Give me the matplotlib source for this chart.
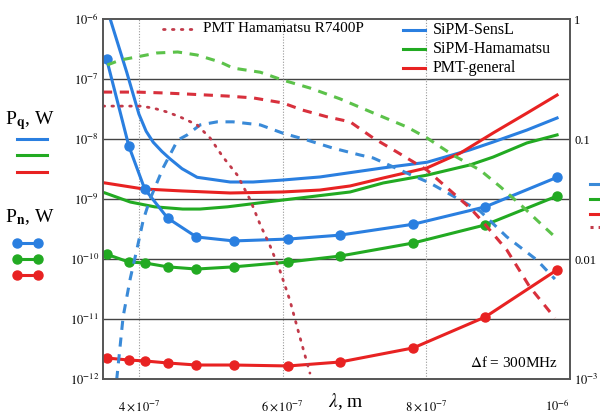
import numpy as np
import matplotlib.pyplot as plt
from matplotlib.lines import Line2D

plt.rcParams['font.family'] = ['Liberation Serif', 'DejaVu Serif']
plt.rcParams['mathtext.fontset'] = 'stix'

BLUE = '#2a7fe0'
GREEN = '#22aa22'
RED = '#e82222'
BLUE_D = '#3a8ad8'
GREEN_D = '#5cc24a'
RED_D = '#d8303c'
RED_DOT = '#c23a4a'

# noise power Pn, W (points with markers)
lam_n = np.array([355, 386, 408, 440, 480, 532, 608, 680, 782, 882, 982]) * 1e-9
pn_sensl = [2.15e-7, 7.6e-9, 1.47e-9, 4.8e-10, 2.33e-10, 2.0e-10, 2.15e-10, 2.5e-10, 3.8e-10, 7.4e-10, 2.3e-9]
pn_hama = [1.2e-10, 8.9e-11, 8.6e-11, 7.4e-11, 6.8e-11, 7.4e-11, 8.9e-11, 1.12e-10, 1.85e-10, 3.7e-10, 1.12e-9]
pn_pmt = [2.24e-12, 2.07e-12, 2.0e-12, 1.85e-12, 1.71e-12, 1.71e-12, 1.65e-12, 1.92e-12, 3.3e-12, 1.08e-11, 6.6e-11]

# quantum-limited power Pq, W
lam_q_sensl = np.array([356, 360, 383, 400, 410, 420, 432, 443, 460, 481, 527, 559, 600, 652, 740, 801, 861, 893, 940, 982]) * 1e-9
pq_sensl = [1.7e-6, 1.0e-6, 1.3e-7, 2.6e-8, 1.35e-8, 8.8e-9, 6.2e-9, 4.7e-9, 3.2e-9, 2.3e-9, 1.92e-9, 1.92e-9, 2.07e-9, 2.33e-9, 3.3e-9, 4.1e-9, 6.6e-9, 8.9e-9, 1.41e-8, 2.24e-8]
lam_q_hama = np.array([353, 388, 422, 461, 485, 523, 600, 694, 740, 801, 861, 893, 940, 982]) * 1e-9
pq_hama = [1.26e-9, 8.9e-10, 7.4e-10, 6.8e-10, 6.8e-10, 7.4e-10, 9.6e-10, 1.31e-9, 1.85e-9, 2.5e-9, 3.7e-9, 5.0e-9, 8.6e-9, 1.17e-8]
lam_q_pmt = np.array([353, 406, 461, 527, 600, 652, 694, 740, 801, 847, 893, 940, 982]) * 1e-9
pq_pmt = [1.85e-9, 1.47e-9, 1.36e-9, 1.26e-9, 1.31e-9, 1.41e-9, 1.65e-9, 2.24e-9, 3.3e-9, 5.8e-9, 1.26e-8, 2.7e-8, 5.4e-8]

# quantum efficiency (right axis)
lam_qe_sensl = np.array([369, 378, 388, 397, 406, 415, 434, 454, 467, 485, 509, 531, 569, 600, 634, 670, 708, 726, 773, 805, 875, 912, 954, 979]) * 1e-9
qe_sensl = [9.8e-4, 3.3e-3, 6.9e-3, 0.0119, 0.0211, 0.031, 0.058, 0.098, 0.108, 0.131, 0.139, 0.139, 0.131, 0.112, 0.098, 0.084, 0.0735, 0.0695, 0.052, 0.043, 0.025, 0.0153, 0.0098, 0.0068]
lam_qe_hama = np.array([356, 374, 397, 425, 454, 481, 513, 531, 569, 600, 638, 680, 726, 773, 801, 837, 875, 903, 935, 958, 979]) * 1e-9
qe_hama = [0.414, 0.455, 0.483, 0.521, 0.531, 0.501, 0.438, 0.39, 0.36, 0.31, 0.266, 0.216, 0.165, 0.126, 0.102, 0.0735, 0.055, 0.04, 0.027, 0.02, 0.0153]
lam_qe_pmt = np.array([350, 397, 434, 467, 523, 559, 600, 628, 662, 694, 726, 759, 801, 861, 879, 912, 944, 979]) * 1e-9
qe_pmt = [0.246, 0.246, 0.242, 0.237, 0.228, 0.22, 0.2, 0.174, 0.153, 0.139, 0.102, 0.078, 0.055, 0.0266, 0.0203, 0.0119, 0.00585, 0.00322]
lam_qe_r7400 = np.array([350, 402, 420, 439, 457, 481, 499, 517, 537, 555, 569, 582, 596, 610, 624, 638]) * 1e-9
qe_r7400 = [0.188, 0.188, 0.181, 0.168, 0.153, 0.131, 0.102, 0.0708, 0.05, 0.031, 0.0192, 0.0131, 0.0081, 0.00455, 0.00224, 0.00112]

W, H = 600, 415
fig = plt.figure(figsize=(6, 4.15), dpi=100)
ax = fig.add_axes([103 / W, 1 - 379 / H, 467 / W, 360 / H])
ax2 = ax.twinx()

ax.set_xlim(3.5e-7, 1e-6)
ax.set_yscale('log')
ax.set_ylim(1e-12, 1e-6)
ax2.set_yscale('log')
ax2.set_ylim(1e-3, 1)

for s in list(ax.spines.values()) + list(ax2.spines.values()):
    s.set_color('#555555')
    s.set_linewidth(1.2)

# grid
for d in range(-11, -6):
    ax.axhline(10.0 ** d, color='#444444', lw=1.0, zorder=1)
for xv in [4e-7, 6e-7, 8e-7]:
    ax.axvline(xv, color='#999999', lw=0.8, ls=(0, (1, 1.5)), zorder=1)

ax.set_yticks([10.0 ** d for d in range(-12, -5)])
ax.set_yticklabels([r'$10^{%d}$' % d for d in range(-12, -5)])
ax.minorticks_off()
ax.tick_params(axis='y', length=0, pad=3, labelsize=9)
ax.set_xticks([4e-7, 6e-7, 8e-7, 1e-6])
ax.set_xticklabels([r'$4\times10^{-7}$', r'$6\times10^{-7}$', r'$8\times10^{-7}$', r'$10^{-6}$'])
ax.tick_params(axis='x', length=0, pad=14, labelsize=9)
ax.get_xticklabels()[-1].set_horizontalalignment('right')

ax2.set_yticks([1e-3, 1e-2, 1e-1, 1])
ax2.set_yticklabels([r'$10^{-3}$', '0.01', '0.1', '1'])
ax2.minorticks_off()
ax2.tick_params(axis='y', length=0, pad=3, labelsize=9)

# Pq curves
ax.plot(lam_q_sensl, pq_sensl, color=BLUE, lw=2.2, zorder=4)
ax.plot(lam_q_hama, pq_hama, color=GREEN, lw=2.2, zorder=4)
ax.plot(lam_q_pmt, pq_pmt, color=RED, lw=2.2, zorder=4)

# Pn curves
ax.plot(lam_n, pn_sensl, color=BLUE, lw=2.2, marker='o', ms=6.5, zorder=5)
ax.plot(lam_n, pn_hama, color=GREEN, lw=2.2, marker='o', ms=6.5, zorder=5)
ax.plot(lam_n, pn_pmt, color=RED, lw=2.2, marker='o', ms=6.5, zorder=5)

# quantum efficiency
ax2.plot(lam_qe_sensl, qe_sensl, color=BLUE_D, lw=2.2, dashes=(3, 2.5))
ax2.plot(lam_qe_hama, qe_hama, color=GREEN_D, lw=2.2, dashes=(3, 2.5))
ax2.plot(lam_qe_pmt, qe_pmt, color=RED_D, lw=2.2, dashes=(3, 2.5))
ax2.plot(lam_qe_r7400, qe_r7400, color=RED_DOT, lw=2.0, ls=(0, (0.6, 2.6)), dash_capstyle='round')


def px(x, y):
    return x / W, 1 - y / H


# legend inside the plot
fig.add_artist(Line2D([163 / W, 195 / W], [1 - 29 / H] * 2, color=RED_DOT, lw=2.0,
                      ls=(0, (0.6, 2.6)), dash_capstyle='round'))
fig.text(*px(203, 29), 'PMT Hamamatsu R7400P', fontsize=11, va='center')
for yy, col, name in [(30, BLUE, 'SiPM-SensL'), (49, GREEN, 'SiPM-Hamamatsu'), (68, RED, 'PMT-general')]:
    fig.add_artist(Line2D([403 / W, 425 / W], [1 - yy / H] * 2, color=col, lw=2.2))
    fig.text(*px(433, yy), name, fontsize=11.5, va='center')

fig.text(*px(558, 362), r'$\Delta$f = 300MHz', fontsize=11, ha='right', va='center')
fig.text(*px(346, 402), r'$\lambda$, m', fontsize=14, ha='center', va='center')

# left-hand keys
fig.text(*px(5, 121), r'P$_{\mathbf{q}}$, W', fontsize=14, va='center')
for yy, col in [(139, BLUE), (155, GREEN), (172, RED)]:
    fig.add_artist(Line2D([17 / W, 47 / W], [1 - yy / H] * 2, color=col, lw=2.2))
fig.text(*px(5, 217), r'P$_{\mathbf{n}}$, W', fontsize=14, va='center')
for yy, col in [(243, BLUE), (259, GREEN), (275, RED)]:
    fig.add_artist(Line2D([17 / W, 38 / W], [1 - yy / H] * 2, color=col, lw=2.2,
                          marker='o', ms=6.5))

# right-hand keys, cut by the edge
for yy, col, ls in [(184, BLUE_D, '-'), (199, GREEN, '-'), (214, RED, '-'), (227, RED_DOT, ':')]:
    fig.add_artist(Line2D([590 / W, 610 / W], [1 - yy / H] * 2, color=col, lw=2.2, ls=ls))

fig.savefig('out.png', dpi=100)
